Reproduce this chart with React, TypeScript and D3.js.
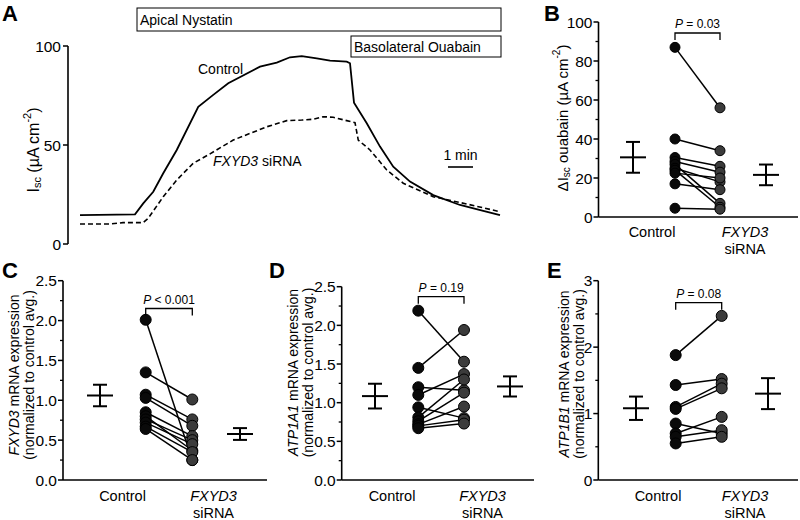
import React from 'react';
import * as d3 from 'd3';

const FONT = '"Liberation Sans", Arial, sans-serif';

// ---------- Panel A: Isc traces (time in min, Isc in µA cm-2) ----------
const ctrlTime = [0, 2.2, 2.53, 2.93, 3.33, 3.87, 4.73, 5.33, 5.93, 7.2, 7.87, 8.4, 8.87, 9.47, 10, 10.67, 10.8, 10.96, 11.47, 12, 12.53, 13.2, 14.13, 15.2, 16.13, 16.8];
const ctrlIsc = [14.6, 15, 20.5, 26.4, 35.7, 47.5, 69.3, 75.3, 81.2, 89.6, 91.6, 94.3, 94.9, 93.8, 92.6, 92.1, 91.3, 71.4, 61, 49.2, 39, 31.5, 24.7, 19.7, 16.7, 14.6];
const siTime = [0, 1.2, 1.72, 2.53, 2.73, 3.33, 3.87, 4.53, 5.13, 6.13, 7.47, 8.27, 8.87, 9.33, 9.73, 10.13, 10.67, 11, 11.13, 11.6, 12.27, 12.93, 14.13, 15.47, 16.8];
const siIsc = [10.1, 10.1, 10.8, 10.8, 13, 23.9, 32.3, 40.8, 45, 52.5, 59.2, 62.3, 62.6, 63, 64.3, 64, 62.3, 61.3, 52.5, 47.5, 37.4, 30.7, 23.9, 20.2, 16.3];
const aTicks = [0, 50, 100];
const nystatinStart = 2.28;
const ouabainStart = 10.84;
const traceEnd = 16.84;
const scaleBarStart = 14.72;
const scaleBarLen = 1;

// ---------- Panel B: ΔIsc ouabain ----------
const bCtrl = [87, 40, 30.5, 28.5, 27, 25, 24, 22.5, 17, 4.5];
const bSi = [56, 34, 26, 23, 7, 18, 5, 20, 14, 4];
const bMean = [30.6, 21.6];
const bSem = [7.9, 5.3];
const bTicks = [0, 20, 40, 60, 80, 100];
const bMinor = [10, 30, 50, 70, 90];

// ---------- Panel C: FXYD3 mRNA ----------
const cCtrl = [2.01, 1.35, 1.07, 1.03, 0.85, 0.8, 0.76, 0.72, 0.67, 0.64];
const cSi = [0.25, 1.01, 0.76, 0.68, 0.55, 0.37, 0.5, 0.45, 0.35, 0.25];
const cMean = [1.06, 0.577];
const cSem = [0.135, 0.074];
const cTicks = [0, 0.5, 1.0, 1.5, 2.0, 2.5];
const cMinor = [0.25, 0.75, 1.25, 1.75, 2.25];

// ---------- Panel D: ATP1A1 mRNA ----------
const dCtrl = [2.19, 1.45, 1.2, 1.1, 0.94, 0.81, 0.76, 0.72, 0.7, 0.67];
const dSi = [1.53, 1.94, 1.16, 1.37, 0.8, 1.3, 1.13, 0.95, 0.78, 0.73];
const dMean = [1.085, 1.21];
const dSem = [0.16, 0.13];
const dTicks = [0, 0.5, 1.0, 1.5, 2.0, 2.5];
const dMinor = [0.25, 0.75, 1.25, 1.75, 2.25];

// ---------- Panel E: ATP1B1 mRNA ----------
const eCtrl = [1.88, 1.43, 1.1, 1.07, 0.85, 0.7, 0.65, 0.55];
const eSi = [2.47, 1.52, 1.45, 1.38, 0.7, 0.95, 0.75, 0.65];
const eMean = [1.08, 1.3];
const eSem = [0.176, 0.233];
const eTicks = [0, 1, 2, 3];
const eMinor = [0.5, 1.5, 2.5];

const groupLabels = ['Control', 'FXYD3', 'siRNA'];
const pLabels = ['= 0.03', '< 0.001', '= 0.19', '= 0.08'];

type DotProps = {
  ctrl: number[]; si: number[]; mean: number[]; sem: number[];
  ticks: number[]; minor: number[]; fmt: string; domain: [number, number];
  axisX: number; yTop: number; yBottom: number; xEnd: number;
  xC: number; xS: number; xMC: number; xMS: number;
  labC: number; labS: number; labY1: number; labY2: number;
  brY: number; pText: string; r: number;
};

function DotPanel(p: DotProps) {
  const y = d3.scaleLinear().domain(p.domain).range([p.yBottom, p.yTop]);
  const f = d3.format(p.fmt);
  const meanW = 13;
  const capW = 7;
  const meanX = [p.xMC, p.xMS];
  return (
    <g>
      <line x1={p.axisX} x2={p.axisX} y1={y(p.domain[1])} y2={p.yBottom} stroke="#000" strokeWidth={1.6} />
      <line x1={p.axisX} x2={p.xEnd} y1={p.yBottom} y2={p.yBottom} stroke="#000" strokeWidth={1.6} />
      {p.ticks.map((t) => (
        <g key={'t' + t}>
          <line x1={p.axisX - 5} x2={p.axisX} y1={y(t)} y2={y(t)} stroke="#000" strokeWidth={1.5} />
          <text x={p.axisX - 6} y={y(t)} textAnchor="end" dominantBaseline="central" fontSize={15.5} fontFamily={FONT}>{f(t)}</text>
        </g>
      ))}
      {p.minor.map((t) => (
        <line key={'m' + t} x1={p.axisX - 3} x2={p.axisX} y1={y(t)} y2={y(t)} stroke="#000" strokeWidth={1.3} />
      ))}
      {p.mean.map((m, i) => (
        <g key={'mean' + i} stroke="#000" strokeWidth={2}>
          <line x1={meanX[i] - meanW} x2={meanX[i] + meanW} y1={y(m)} y2={y(m)} />
          <line x1={meanX[i]} x2={meanX[i]} y1={y(m + p.sem[i])} y2={y(m - p.sem[i])} />
          <line x1={meanX[i] - capW} x2={meanX[i] + capW} y1={y(m + p.sem[i])} y2={y(m + p.sem[i])} />
          <line x1={meanX[i] - capW} x2={meanX[i] + capW} y1={y(m - p.sem[i])} y2={y(m - p.sem[i])} />
        </g>
      ))}
      {p.ctrl.map((c, i) => (
        <line key={'l' + i} x1={p.xC} x2={p.xS} y1={y(c)} y2={y(p.si[i])} stroke="#000" strokeWidth={1.5} />
      ))}
      {p.si.map((s, i) => (
        <circle key={'s' + i} cx={p.xS} cy={y(s)} r={p.r} fill="#3b3b3b" stroke="#000" strokeWidth={1} />
      ))}
      {p.ctrl.map((c, i) => (
        <circle key={'c' + i} cx={p.xC} cy={y(c)} r={p.r} fill="#0a0a0a" stroke="#000" strokeWidth={1} />
      ))}
      <path d={`M${p.xC},${p.brY + 7}V${p.brY}H${p.xS}V${p.brY + 7}`} fill="none" stroke="#000" strokeWidth={1.3} />
      <text x={(p.xC + p.xS) / 2} y={p.brY - 5} textAnchor="middle" fontSize={12} fontFamily={FONT}>
        <tspan fontStyle="italic">P</tspan> {p.pText}
      </text>
      <text x={p.labC} y={p.labY1} textAnchor="middle" fontSize={14.5} fontFamily={FONT}>{groupLabels[0]}</text>
      <text x={p.labS} y={p.labY1} textAnchor="middle" fontSize={14.5} fontFamily={FONT} fontStyle="italic">{groupLabels[1]}</text>
      <text x={p.labS} y={p.labY2} textAnchor="middle" fontSize={14.5} fontFamily={FONT}>{groupLabels[2]}</text>
    </g>
  );
}

function PanelA() {
  const x = d3.scaleLinear().domain([0, 16.8]).range([80, 500]);
  const y = d3.scaleLinear().domain([0, 100]).range([244, 46]);
  const lineC = d3.line<number>().x((_, i) => x(ctrlTime[i])).y((d) => y(d));
  const lineS = d3.line<number>().x((_, i) => x(siTime[i])).y((d) => y(d));
  return (
    <g>
      <line x1={68} x2={68} y1={y(100)} y2={y(0)} stroke="#000" strokeWidth={1.6} />
      {aTicks.map((t) => (
        <g key={t}>
          <line x1={63} x2={68} y1={y(t)} y2={y(t)} stroke="#000" strokeWidth={1.5} />
          <text x={61} y={y(t)} textAnchor="end" dominantBaseline="central" fontSize={15.5} fontFamily={FONT}>{t}</text>
        </g>
      ))}
      <text transform="translate(33,150) rotate(-90)" textAnchor="middle" dominantBaseline="central" fontSize={16} fontFamily={FONT}>
        I<tspan dy={4} fontSize={11}>sc</tspan><tspan dy={-4}> (µA cm</tspan><tspan dy={-6} fontSize={11}>-2</tspan><tspan dy={6}>)</tspan>
      </text>
      <rect x={x(nystatinStart)} y={8} width={x(traceEnd) - x(nystatinStart)} height={23} fill="#fff" stroke="#000" strokeWidth={1} />
      <text x={x(nystatinStart) + 3} y={25} fontSize={14} fontFamily={FONT}>Apical Nystatin</text>
      <rect x={x(ouabainStart)} y={36} width={x(traceEnd) - x(ouabainStart)} height={21} fill="#fff" stroke="#000" strokeWidth={1} />
      <text x={x(ouabainStart) + 3} y={52} fontSize={14} fontFamily={FONT}>Basolateral Ouabain</text>
      <path d={lineC(ctrlIsc) || ''} fill="none" stroke="#000" strokeWidth={1.8} />
      <path d={lineS(siIsc) || ''} fill="none" stroke="#000" strokeWidth={1.6} strokeDasharray="5,3" />
      <text x={198} y={74} fontSize={14} fontFamily={FONT}>Control</text>
      <text x={213} y={166} fontSize={14} fontFamily={FONT}>
        <tspan fontStyle="italic">FXYD3</tspan> siRNA
      </text>
      <line x1={x(scaleBarStart)} x2={x(scaleBarStart + scaleBarLen)} y1={167} y2={167} stroke="#000" strokeWidth={1.6} />
      <text x={x(scaleBarStart + scaleBarLen / 2)} y={160} textAnchor="middle" fontSize={14} fontFamily={FONT}>1 min</text>
    </g>
  );
}

function Letter({ x, y, t }: { x: number; y: number; t: string }) {
  return <text x={x} y={y} fontSize={22} fontWeight="bold" fontFamily={FONT}>{t}</text>;
}

export default function App() {
  return (
    <svg width={800} height={520} style={{ position: 'absolute', left: 0, top: 0, background: '#fff' }}>
      <rect width={800} height={520} fill="#fff" />
      <Letter x={2} y={21} t="A" />
      <Letter x={544} y={21} t="B" />
      <Letter x={2} y={278} t="C" />
      <Letter x={269} y={278} t="D" />
      <Letter x={547} y={278} t="E" />
      <PanelA />

      <DotPanel ctrl={bCtrl} si={bSi} mean={bMean} sem={bSem} ticks={bTicks} minor={bMinor} fmt="d" domain={[0, 100]}
        axisX={598.5} yTop={22} yBottom={217} xEnd={798} xC={675} xS={720} xMC={633} xMS={766}
        labC={652} labS={745} labY1={237} labY2={254} brY={33} pText={pLabels[0]} r={5} />
      <text transform="translate(562,118) rotate(-90)" textAnchor="middle" dominantBaseline="central" fontSize={15} fontFamily={FONT}>
        ΔI<tspan dy={4} fontSize={10}>sc</tspan><tspan dy={-4}> ouabain (µA cm</tspan><tspan dy={-6} fontSize={10}>-2</tspan><tspan dy={6}>)</tspan>
      </text>

      <DotPanel ctrl={cCtrl} si={cSi} mean={cMean} sem={cSem} ticks={cTicks} minor={cMinor} fmt=".1f" domain={[0, 2.5]}
        axisX={63} yTop={280.7} yBottom={480} xEnd={267} xC={145.7} xS={192.3} xMC={100} xMS={240}
        labC={122.5} labS={213.5} labY1={501} labY2={518} brY={308.5} pText={pLabels[1]} r={5.5} />
      <text transform="translate(14,375) rotate(-90)" textAnchor="middle" dominantBaseline="central" fontSize={14} fontFamily={FONT}>
        <tspan fontStyle="italic">FXYD3</tspan> mRNA expression
      </text>
      <text transform="translate(29,375) rotate(-90)" textAnchor="middle" dominantBaseline="central" fontSize={14} fontFamily={FONT}>
        (normalized to control avg.)
      </text>

      <DotPanel ctrl={dCtrl} si={dSi} mean={dMean} sem={dSem} ticks={dTicks} minor={dMinor} fmt=".1f" domain={[0, 2.5]}
        axisX={341.7} yTop={286.7} yBottom={480} xEnd={534} xC={418.3} xS={464} xMC={375} xMS={510}
        labC={392} labS={482.5} labY1={501} labY2={518} brY={296.7} pText={pLabels[2]} r={5.5} />
      <text transform="translate(292.5,372.5) rotate(-90)" textAnchor="middle" dominantBaseline="central" fontSize={14} fontFamily={FONT}>
        <tspan fontStyle="italic">ATP1A1</tspan> mRNA expression
      </text>
      <text transform="translate(307.5,372.5) rotate(-90)" textAnchor="middle" dominantBaseline="central" fontSize={14} fontFamily={FONT}>
        (normalized to control avg.)
      </text>

      <DotPanel ctrl={eCtrl} si={eSi} mean={eMean} sem={eSem} ticks={eTicks} minor={eMinor} fmt="d" domain={[0, 3]}
        axisX={598.3} yTop={280.7} yBottom={480} xEnd={798} xC={675.7} xS={721.7} xMC={636} xMS={768}
        labC={658} labS={745} labY1={501} labY2={518} brY={302.7} pText={pLabels[3]} r={5.5} />
      <text transform="translate(564,374) rotate(-90)" textAnchor="middle" dominantBaseline="central" fontSize={14} fontFamily={FONT}>
        <tspan fontStyle="italic">ATP1B1</tspan> mRNA expression
      </text>
      <text transform="translate(578.5,374) rotate(-90)" textAnchor="middle" dominantBaseline="central" fontSize={14} fontFamily={FONT}>
        (normalized to control avg.)
      </text>
    </svg>
  );
}
